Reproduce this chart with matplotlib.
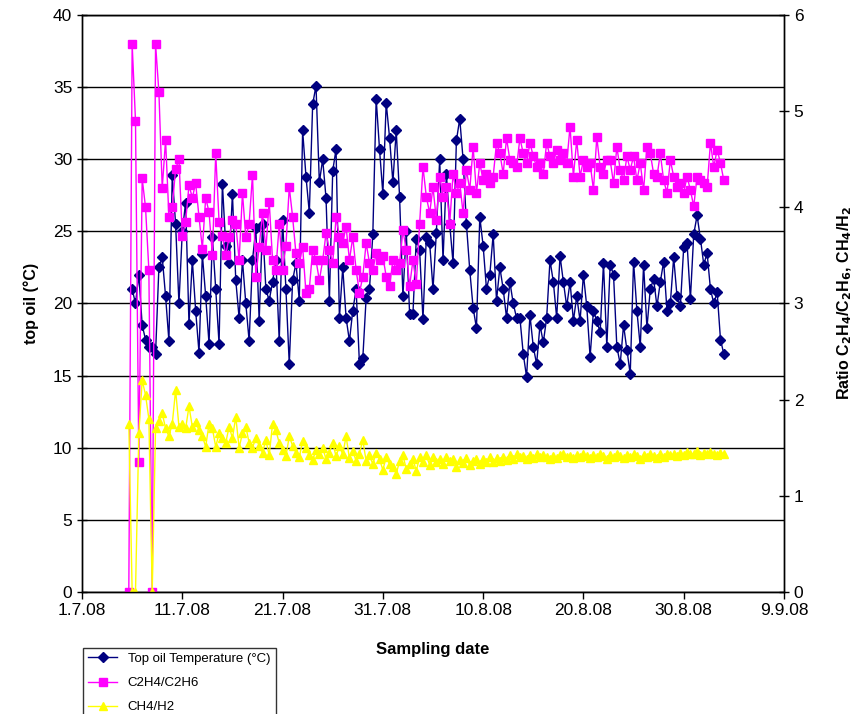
import matplotlib
matplotlib.use("Agg")
import matplotlib.pyplot as plt
import matplotlib.dates as mdates
from matplotlib.ticker import FuncFormatter, MultipleLocator
import pandas as pd

plt.rcParams['font.family'] = ['Liberation Sans', 'DejaVu Sans']

# sampling every 8 hours
temp_start = "2008-07-06 00:00"
ratio_start = "2008-07-05 16:00"

top_oil = [
    21.0, 20.0, 22.0,   18.5, 17.5, 17.0,   17.0, 16.5, 22.5,   23.2, 20.5, 17.4,
    28.9, 25.5, 20.0,   25.0, 27.0, 18.6,   23.0, 19.5, 16.6,   23.4, 20.5, 17.2,
    24.6, 21.0, 17.2,   28.3, 24.0, 22.8,   27.6, 21.6, 19.0,   23.0, 20.0, 17.4,
    23.0, 25.2, 18.8,   25.5, 21.0, 20.2,   21.5, 23.0, 17.4,   25.8, 21.0, 15.8,
    21.6, 22.8, 20.2,   32.0, 28.8, 26.3,   33.8, 35.1, 28.4,   30.0, 27.3, 20.2,
    29.2, 30.7, 19.0,   22.5, 19.0, 17.4,   19.5, 21.0, 15.8,   16.2, 20.4, 21.0,
    24.8, 34.2, 30.7,   27.6, 33.9, 31.5,   28.4, 32.0, 27.4,   20.5, 25.0, 19.3,
    19.3, 24.5, 23.7,   18.9, 24.6, 24.2,   21.0, 24.9, 30.0,   23.0, 29.0, 25.5,
    22.8, 31.3, 32.8,   30.0, 25.5, 22.3,   19.7, 18.3, 26.0,   24.0, 21.0, 22.0,
    24.8, 20.2, 22.5,   21.0, 19.0, 21.5,   20.0, 19.0, 19.0,   16.5, 14.9, 19.2,
    17.0, 15.8, 18.5,   17.3, 19.0, 23.0,   21.5, 19.0, 23.3,   21.5, 19.8, 21.5,
    18.8, 20.5, 18.8,   22.0, 19.8, 16.3,   19.5, 18.8, 18.0,   22.8, 17.0, 22.7,
    22.0, 17.0, 15.8,   18.5, 16.8, 15.1,   22.9, 19.5, 17.0,   22.7, 18.3, 21.0,
    21.7, 19.8, 21.5,   22.9, 19.5, 20.0,   23.2, 20.5, 19.8,   23.9, 24.2, 20.3,
    24.8, 26.1, 24.5,   22.7, 23.5, 21.0,   20.0, 20.8, 17.5,   16.5,
]

c2h4_c2h6 = [
    0.0, 5.7, 4.9, 1.35, 4.3, 4.0, 3.35, 0.0, 5.7, 5.2, 4.2, 4.7, 3.9,
    4.0, 4.4, 4.5,      3.7, 3.85, 4.23,    4.1, 4.25, 3.9,     3.57, 4.1, 3.95,
    3.5, 4.56, 3.85,    3.7, 3.5, 3.69,     3.87, 3.83, 3.45,   4.15, 3.69, 3.83,
    4.34, 3.28, 3.59,   3.94, 3.56, 4.06,   3.45, 3.35, 3.83,   3.35, 3.6, 4.21,
    3.9, 3.52, 3.42,    3.59, 3.11, 3.15,   3.56, 3.45, 3.24,   3.45, 3.73, 3.56,
    3.42, 3.9, 3.69,    3.63, 3.8, 3.45,    3.69, 3.35, 3.11,   3.28, 3.63, 3.42,
    3.35, 3.52, 3.45,   3.49, 3.28, 3.18,   3.45, 3.35, 3.42,   3.76, 3.56, 3.18,
    3.45, 3.2, 3.83,    4.42, 4.11, 3.94,   4.21, 3.87, 4.32,   4.11, 4.21, 3.83,
    4.35, 4.15, 4.25,   3.94, 4.39, 4.18,   4.63, 4.15, 4.46,   4.28, 4.35, 4.25,
    4.32, 4.67, 4.56,   4.35, 4.72, 4.49,   4.46, 4.42, 4.72,   4.56, 4.46, 4.67,
    4.53, 4.42, 4.46,   4.35, 4.67, 4.53,   4.46, 4.6, 4.49,    4.56, 4.46, 4.84,
    4.32, 4.7, 4.32,    4.49, 4.42, 4.46,   4.18, 4.73, 4.42,   4.35, 4.49, 4.49,
    4.25, 4.63, 4.39,   4.28, 4.53, 4.39,   4.53, 4.28, 4.46,   4.18, 4.63, 4.56,
    4.35, 4.32, 4.56,   4.28, 4.15, 4.49,   4.32, 4.21, 4.25,   4.15, 4.32, 4.18,
    4.01, 4.32, 4.28,   4.25, 4.21, 4.67,   4.42, 4.6, 4.46,    4.28,
]

ch4_h2 = [
    1.75, 0.0, 0.0, 1.65, 2.2, 2.05, 1.8, 0.0, 1.7, 1.78, 1.86, 1.7, 1.62,
    1.75, 2.1, 1.72,    1.75, 1.7, 1.93,    1.72, 1.77, 1.68,   1.62, 1.51, 1.75,
    1.7, 1.51, 1.65,    1.6, 1.55, 1.72,    1.6, 1.82, 1.5,     1.65, 1.72, 1.55,
    1.5, 1.6, 1.52,     1.45, 1.58, 1.42,   1.75, 1.68, 1.55,   1.48, 1.41, 1.62,
    1.52, 1.45, 1.4,    1.57, 1.5, 1.42,    1.37, 1.48, 1.43,   1.5, 1.38, 1.45,
    1.55, 1.41, 1.52,   1.43, 1.62, 1.39,   1.47, 1.36, 1.44,   1.58, 1.36, 1.42,
    1.33, 1.45, 1.38,   1.27, 1.4, 1.33,    1.3, 1.23, 1.36,    1.42, 1.28, 1.33,
    1.38, 1.26, 1.4,    1.35, 1.42, 1.32,   1.4, 1.35, 1.38,    1.33, 1.4, 1.36,
    1.38, 1.3, 1.37,    1.34, 1.39, 1.32,   1.36, 1.38, 1.33,   1.38, 1.35, 1.4,
    1.35, 1.39, 1.36,   1.4, 1.37, 1.42,    1.38, 1.43, 1.4,    1.41, 1.38, 1.42,
    1.39, 1.43, 1.4,    1.42, 1.4, 1.38,    1.41, 1.39, 1.42,   1.43, 1.4, 1.41,
    1.39, 1.42, 1.4,    1.44, 1.41, 1.39,   1.42, 1.4, 1.43,    1.41, 1.38, 1.42,
    1.4, 1.43, 1.41,    1.39, 1.42, 1.4,    1.43, 1.41, 1.38,   1.42, 1.4, 1.44,
    1.41, 1.39, 1.43,   1.4, 1.44, 1.42,    1.43, 1.41, 1.45,   1.42, 1.46, 1.43,
    1.44, 1.47, 1.42,   1.45, 1.43, 1.46,   1.44, 1.42, 1.45,   1.43,
]

x_ticks = pd.date_range("2008-07-01", "2008-09-09", freq="10D")

t_temp = pd.date_range(temp_start, periods=len(top_oil), freq="8h")
t_ratio = pd.date_range(ratio_start, periods=len(c2h4_c2h6), freq="8h")
t_ratio2 = pd.date_range(ratio_start, periods=len(ch4_h2), freq="8h")

fig = plt.figure(figsize=(8.66, 7.14), dpi=100)
ax = fig.add_axes([0.0947, 0.1709, 0.8106, 0.8081])
ax2 = ax.twinx()

ax.plot(t_temp, top_oil, color='#000080', marker='D', markersize=5, lw=1.0,
        label='Top oil Temperature (°C)')
l2, = ax2.plot(t_ratio, c2h4_c2h6, color='#FF00FF', marker='s', markersize=5.5, lw=1.0,
               label='C2H4/C2H6')
l3, = ax2.plot(t_ratio2, ch4_h2, color='#FFFF00', marker='^', markersize=6, lw=1.0,
               label='CH4/H2')

ax.set_xlim(x_ticks[0], x_ticks[-1])
ax.set_ylim(0, 40)
ax2.set_ylim(0, 6)
ax.yaxis.set_major_locator(MultipleLocator(5))
ax2.yaxis.set_major_locator(MultipleLocator(1))
ax.set_xticks(x_ticks)
ax.xaxis.set_major_formatter(FuncFormatter(
    lambda v, p: (lambda d: f"{d.day}.{d.month}.{d.strftime('%y')}")(mdates.num2date(v))))

ax.grid(axis='y', color='black', lw=1.0)
ax.set_axisbelow(True)
for a in (ax, ax2):
    for s in ('left', 'right', 'bottom', 'top'):
        a.spines[s].set_linewidth(1.0)
ax.tick_params(axis='both', labelsize=12.5, direction='inout', length=7, width=1)
ax.tick_params(axis='x', direction='out', length=5, pad=3)
ax2.tick_params(axis='y', labelsize=12.5, direction='inout', length=7, width=1)

ax.set_ylabel('top oil (°C)', fontsize=11.5, fontweight='bold', labelpad=10)
ax.set_xlabel('Sampling date', fontsize=12, fontweight='bold', labelpad=17)
ax2.set_ylabel('Ratio C$_\\mathbf{2}$H$_\\mathbf{4}$/C$_\\mathbf{2}$H$_\\mathbf{6}$, CH$_\\mathbf{4}$/H$_\\mathbf{2}$',
               fontsize=11.5, fontweight='bold', labelpad=23)

h1, lab1 = ax.get_legend_handles_labels()
leg = fig.legend(h1 + [l2, l3], lab1 + [l2.get_label(), l3.get_label()],
                 loc='upper left', bbox_to_anchor=(0.0958, 0.093),
                 fontsize=9.5, frameon=True, fancybox=False, edgecolor='black',
                 handlelength=2.2, labelspacing=0.9, borderaxespad=0)
leg.get_frame().set_linewidth(1.0)

fig.savefig("out.png", dpi=100)
